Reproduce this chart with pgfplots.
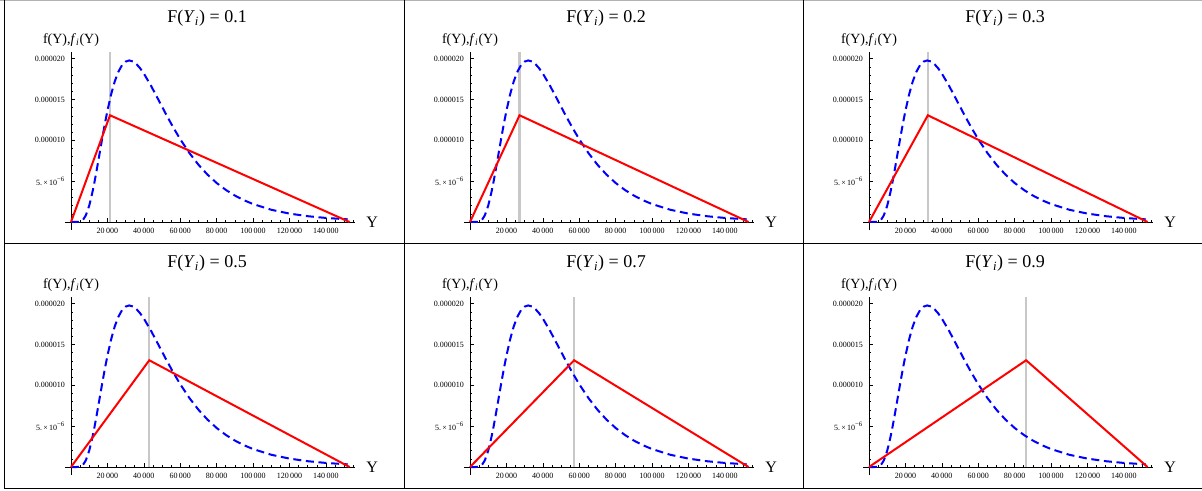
\documentclass[border=0pt]{standalone}
\usepackage{fontspec}
\setmainfont{Liberation Serif}
\usepackage{pgfplots}
\pgfplotsset{compat=1.18}
\usepackage{pgfplotstable}

\definecolor{mblue}{RGB}{0,0,255}
\definecolor{mred}{RGB}{255,0,0}
\definecolor{mgray}{RGB}{200,200,200}

% density of Y (blue, dashed)
\pgfplotstableread{
x y
0 0
3000 0
4000 1.32e-8
5000 5.8e-8
6000 1.72e-7
7000 3.97e-7
8000 7.66e-7
9000 1.30e-6
10000 2.005e-6
11000 2.873e-6
12000 3.885e-6
13000 5.012e-6
14000 6.225e-6
15000 7.489e-6
16000 8.775e-6
17000 1.0055e-5
18000 1.130e-5
19000 1.2492e-5
20000 1.3614e-5
22000 1.560e-5
24000 1.720e-5
26000 1.839e-5
28000 1.920e-5
30000 1.9646e-5
32000 1.9785e-5
34000 1.9662e-5
36000 1.9325e-5
38000 1.882e-5
40000 1.8186e-5
44000 1.6665e-5
48000 1.498e-5
52000 1.3277e-5
56000 1.1646e-5
60000 1.0137e-5
65000 8.458e-6
70000 7.015e-6
75000 5.797e-6
80000 4.779e-6
85000 3.935e-6
90000 3.240e-6
95000 2.668e-6
100000 2.199e-6
110000 1.4994e-6
120000 1.029e-6
130000 7.117e-7
140000 4.962e-7
152000 3.25e-7
}\dens

\pgfplotsset{
  panel/.style={
    scale only axis,
    width=217.5pt, height=133.5pt,
    anchor=origin,
    xmin=-3300, xmax=156000,
    ymin=-1e-6, ymax=2.08e-5,
    axis lines=middle,
    axis line style={-, black, line width=0.5pt},
    scaled x ticks=false, scaled y ticks=false,
    tick align=inside,
    major tick length=3pt,
    minor tick length=1.6pt,
    tick style={black, line width=0.4pt},
    xtick={20000,40000,60000,80000,100000,120000,140000},
    xticklabels={20\,000,40\,000,60\,000,80\,000,100\,000,120\,000,140\,000},
    minor xtick={5000,10000,...,155000},
    ytick={5e-6,1e-5,1.5e-5,2e-5},
    yticklabels={5.\,×\,10\textsuperscript{−6},0.000010,0.000015,0.000020},
    minor ytick={1e-6,2e-6,...,2e-5},
    tick label style={font=\fontsize{6}{7}\selectfont},
    xticklabel style={anchor=north, yshift=-1pt},
    yticklabel style={anchor=east, xshift=-1pt},
    every axis x label/.style={at={(axis description cs:1,0.0459)}, anchor=west, xshift=5pt},
    every axis y label/.style={at={(axis description cs:0.0207,1)}, anchor=base, yshift=6.75pt},
    xlabel={\fontsize{12}{14}\selectfont Y},
    ylabel={\fontsize{10.5}{12}\selectfont f(Y),\textit{f}\textsubscript{\textit{i}}(Y)},
    title style={at={(axis description cs:0.49,1)}, anchor=base, yshift=16.5pt, font=\fontsize{13.5}{15}\selectfont},
    clip=false,
  },
}

% one panel: origin x (pt), origin y (pt), Y_i, F(Y_i)
\newcommand{\panel}[4]{%
  \begin{axis}[panel, at={(#1,#2)}, title={F(\textit{Y}\textsubscript{\textit{i}}) = #4}]
    \addplot[mgray, line width=1.7pt] coordinates {(#3,0) (#3,2.08e-5)};
    \addplot[mblue, line width=1.5pt, dash pattern=on 6pt off 3.5pt] table {\dens};
    \addplot[mred, line width=1.5pt] coordinates {(0,0) (#3,1.307e-5) (153000,0)};
  \end{axis}}

\begin{document}
\begin{tikzpicture}
  \begin{scope}[x=0.75pt, y=-0.75pt]
    \useasboundingbox (0,0) rectangle (1202,491);
    \draw[gray!60, line width=0.6pt] (0,0.5) -- (1202,0.5);
    \draw[black, line width=0.75pt] (4,0) -- (4,488) -- (1202,488);
    \draw[black, line width=0.75pt] (404,0) -- (404,488);
    \draw[black, line width=0.75pt] (803,0) -- (803,488);
    \draw[black, line width=0.75pt] (4,244) -- (1202,244);
  \end{scope}
  \panel{53.25pt}{-166.5pt}{21430}{0.1}
  \panel{352.5pt}{-166.5pt}{27215}{0.2}
  \panel{651.75pt}{-166.5pt}{32333}{0.3}
  \panel{53.25pt}{-350.25pt}{43000}{0.5}
  \panel{352.5pt}{-350.25pt}{57190}{0.7}
  \panel{651.75pt}{-350.25pt}{86290}{0.9}
\end{tikzpicture}
\end{document}
